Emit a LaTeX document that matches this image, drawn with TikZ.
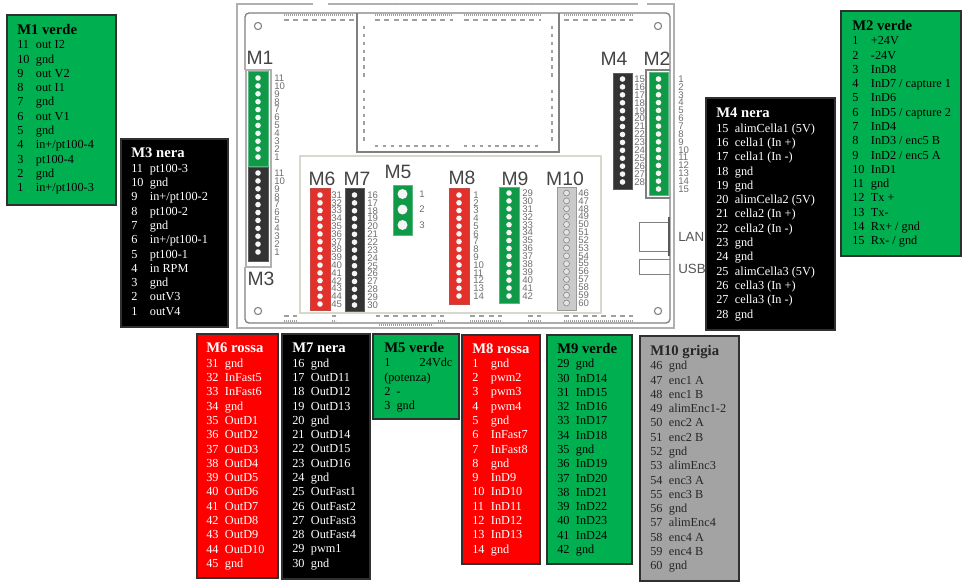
\documentclass[tikz,border=0pt]{standalone}
\usepackage{fontspec}
\setmainfont{Liberation Serif}
\setsansfont{Liberation Sans}
\definecolor{mapVerde}{HTML}{00B050}
\definecolor{mapRossa}{HTML}{FF0000}
\definecolor{mapGrigia}{HTML}{A3A3A3}
\definecolor{mapEdge}{HTML}{303030}
\definecolor{brdLine}{HTML}{808080}
\definecolor{brdFrame}{HTML}{B0B0B0}
\definecolor{brdInner}{HTML}{D8D8CE}
\definecolor{brdPad}{HTML}{A0A0A0}
\definecolor{brdText}{HTML}{555555}
\definecolor{stripVerde}{HTML}{109A48}
\definecolor{stripRossa}{HTML}{E2302A}
\definecolor{stripNera}{HTML}{333333}
\definecolor{stripGrigia}{HTML}{CACACA}
\newcommand{\pinrow}[2]{\makebox[14pt][l]{#1}#2\\}
\newcommand{\cardtitle}[1]{{\fontsize{11}{10.72}\selectfont\bfseries #1}\\}
\tikzset{
  card/.style={draw=mapEdge,line width=.8pt},
  rows/.style={anchor=north west,inner sep=0pt,align=left,font=\fontsize{9.2}{10.72}\selectfont},
  verde/.style={card,fill=mapVerde},
  rossa/.style={card,fill=mapRossa},
  nera/.style={card,fill=black},
  grigia/.style={card,fill=mapGrigia},
  sverde/.style={fill=stripVerde,draw=stripVerde!70!white,thin},
  srossa/.style={fill=stripRossa,draw=stripRossa!70!gray,thin},
  snera/.style={fill=stripNera,draw=stripNera!80!white,thin},
  sgrigia/.style={fill=stripGrigia,draw=gray!80,thin},
  pinfull/.style={fill=white!92!gray},
  pinring/.style={fill=stripGrigia!50!white,draw=gray,thin},
  tag/.style={font=\sffamily\fontsize{14.5}{15}\selectfont,text=brdText!80!black,inner sep=0pt},
  num/.style={font=\sffamily\fontsize{7.2}{8}\selectfont,text=brdText!85,inner sep=0pt,anchor=west},
  port/.style={font=\sffamily\fontsize{10}{11}\selectfont,text=brdText,inner sep=0pt,anchor=west},
  dense/.style={draw=brdPad,line width=1.5pt,dash pattern=on .9pt off .6pt},
  dashrow/.style={draw=brdPad,line width=.8pt,dash pattern=on 3.8pt off 3.2pt},
  padrow/.style={draw=brdPad,line width=2pt,dash pattern=on 2.6pt off 3.3pt},
}
\begin{document}
\begin{tikzpicture}[x=.75pt,y=-.75pt]
  \useasboundingbox (0,0) rectangle (970,587);
  % frame round the board
  \draw[brdFrame,line width=.9pt] (313,4) -- (237,4) -- (237,328) -- (674,328) -- (674,4) -- (647,4);
  \draw[brdFrame,line width=.9pt] (328,4) -- (638,4);
  \draw[brdLine,line width=.7pt] (389,0) arc[start angle=180,end angle=360,x radius=3.5,y radius=3];
  \draw[brdLine,line width=.7pt] (532,0) arc[start angle=180,end angle=360,x radius=3.5,y radius=3];
  % board outline
  \draw[brdLine,line width=1pt,rounded corners=3pt] (245,70) -- (245,13) -- (670,13) -- (670,323) -- (245,323) -- (245,267);
  \draw[brdFrame,line width=.8pt] (246,70) -- (271,70) -- (271,267) -- (246,267) -- cycle;
  \draw[brdLine,line width=.8pt] (670,70) -- (646,70) -- (646,198) -- (670,198);
  \draw[brdLine,line width=1pt] (357,13) -- (357,152) -- (559,152) -- (559,13);
  \draw[brdInner,line width=.9pt] (300,156) rectangle (601,313);
  % pads
  \foreach \xa/\xb in {284/354,375/453,464/541,564/633} {
    \draw[dense] (\xa,15) -- (\xb,15);
    \draw[dashrow] (\xa,20) -- (\xb,20);
  }
  \foreach \xa/\xb in {375/453,464/541} \draw[padrow] (\xa,146) -- (\xb,146);
  \foreach \xx in {364,552} {
    \draw[padrow] (\xx,26) -- (\xx,79);
    \draw[padrow] (\xx,90) -- (\xx,143);
  }
  \foreach \xa/\xb in {284/297,332/336,376/380,384/444,470/502,528/541,564/633}
    \draw[dashrow] (\xa,316) -- (\xb,316);
  \foreach \xa/\xb in {284/297,332/336,470/502,528/541,564/633}
    \draw[dense] (\xa,321) -- (\xb,321);
  \draw[dense] (379,325) -- (433,325);
  \draw[dense] (438,321) -- (445,321);
  % mounting holes
  \foreach \xx/\yy in {258/26,658/26,258/311,658/311}
    \draw[brdLine,line width=.8pt] (\xx,\yy) circle[radius=3.6];
  % lan and usb
  \draw[brdLine,line width=.7pt] (670,222) -- (639,222) -- (639,251) -- (670,251);
  \draw[brdLine,line width=.7pt] (670,259) -- (639,259) -- (639,274) -- (670,274);
  \draw[brdLine!70!black,line width=1.2pt] (669,217) -- (669,256);
  \node[port] (lan) at (678,237) {LAN};
  \node[port] (usb) at (678,269) {USB};
  % connector strips
  \foreach \cid/\xa/\ya/\xb/\yb/\sty/\pst/\rr/\py/\pe/\nfirst/\nsec/\nlast/\lx in {
      m1/248/71/268/166/sverde/pinfull/2.8/78/157/11/10/1/274,
      m3/248/167/268/261/snera/pinfull/2.8/173/252/11/10/1/274,
      m6/310/188/330/310/srossa/pinfull/2.8/195/304/31/32/45/331,
      m7/345/188/364/311/snera/pinfull/2.8/195/305/16/17/30/367,
      m8/449/188/469/304/srossa/pinfull/2.8/195/296/1/2/14/473,
      m9/499/187/519/303/sverde/pinfull/2.8/193/296/29/30/42/522,
      m10/557/187/576/310/sgrigia/pinring/3/193/303/46/47/60/578,
      m4/613/73/632/189/snera/pinfull/2.8/79/182/15/16/28/634,
      m2/649/72/668/195/sverde/pinfull/2.8/79/189/1/2/15/678,
      m5/393/185/412/235/sverde/pinfull/5/194/225/1/2/3/419} {
    \path[\sty] (\xa,\ya) rectangle (\xb,\yb);
    \pgfmathsetmacro{\pitch}{(\pe-\py)/abs(\nlast-\nfirst)}
    \pgfmathsetmacro{\pinx}{(\xa+\xb)/2}
    \foreach \k in {\nfirst,\nsec,...,\nlast} {
      \pgfmathsetmacro{\piny}{\py+abs(\k-\nfirst)*\pitch}
      \path[\pst] (\pinx,\piny) circle[radius=\rr];
      \node[num] (\cid-\k) at (\lx,\piny) {\k};
    }
  }
  \node[tag] (m1tag) at (260,58) {M1};
  \node[tag] (m3tag) at (261,279) {M3};
  \node[tag] (m6tag) at (322,179) {M6};
  \node[tag] (m7tag) at (357,179) {M7};
  \node[tag] (m5tag) at (398,172) {M5};
  \node[tag] (m8tag) at (462,178) {M8};
  \node[tag] (m9tag) at (515,179) {M9};
  \node[tag] (m10tag) at (565,179) {M10};
  \node[tag] (m4tag) at (614,59) {M4};
  \node[tag] (m2tag) at (657,59) {M2};
  % cards
  \draw[verde] (7,15) rectangle (116,205);
  \node[rows] (m1list) at (17,24) {\cardtitle{M1 verde}
    \pinrow{11}{out I2}\pinrow{10}{gnd}\pinrow{9}{out V2}\pinrow{8}{out I1}\pinrow{7}{gnd}\pinrow{6}{out V1}
    \pinrow{5}{gnd}\pinrow{4}{in+/pt100-4}\pinrow{3}{pt100-4}\pinrow{2}{gnd}1\hspace{9.4pt}in+/pt100-3};
  \draw[nera] (121,139) rectangle (228,327);
  \node[rows,text=white] (m3list) at (131,148) {\cardtitle{M3 nera}
    \pinrow{11}{pt100-3}\pinrow{10}{gnd}\pinrow{9}{in+/pt100-2}\pinrow{8}{pt100-2}\pinrow{7}{gnd}\pinrow{6}{in+/pt100-1}
    \pinrow{5}{pt100-1}\pinrow{4}{in RPM}\pinrow{3}{gnd}\pinrow{2}{outV3}1\hspace{9.4pt}outV4};
  \draw[verde] (841,11) rectangle (961,256);
  \node[rows] (m2list) at (852,20) {\cardtitle{M2 verde}
    \pinrow{1}{+24V}\pinrow{2}{-24V}\pinrow{3}{InD8}\pinrow{4}{InD7 / capture 1}\pinrow{5}{InD6}\pinrow{6}{InD5 / capture 2}
    \pinrow{7}{InD4}\pinrow{8}{InD3 / enc5 B}\pinrow{9}{InD2 / enc5 A}\pinrow{10}{InD1}\pinrow{11}{gnd}\pinrow{12}{Tx +}
    \pinrow{13}{Tx-}\pinrow{14}{Rx+ / gnd}15\hspace{4.8pt}Rx- / gnd};
  \draw[nera] (706,98) rectangle (835,330);
  \node[rows,text=white] (m4list) at (716,108) {\cardtitle{M4 nera}
    \pinrow{15}{alimCella1 (5V)}\pinrow{16}{cella1 (In +)}\pinrow{17}{cella1 (In -)}\pinrow{18}{gnd}\pinrow{19}{gnd}
    \pinrow{20}{alimCella2 (5V)}\pinrow{21}{cella2 (In +)}\pinrow{22}{cella2 (In -)}\pinrow{23}{gnd}\pinrow{24}{gnd}
    \pinrow{25}{alimCella3 (5V)}\pinrow{26}{cella3 (In +)}\pinrow{27}{cella3 (In -)}28\hspace{4.8pt}gnd};
  \draw[rossa] (197,334) rectangle (278,578);
  \node[rows,text=white] (m6list) at (206,343) {\cardtitle{M6 rossa}
    \pinrow{31}{gnd}\pinrow{32}{InFast5}\pinrow{33}{InFast6}\pinrow{34}{gnd}\pinrow{35}{OutD1}\pinrow{36}{OutD2}\pinrow{37}{OutD3}
    \pinrow{38}{OutD4}\pinrow{39}{OutD5}\pinrow{40}{OutD6}\pinrow{41}{OutD7}\pinrow{42}{OutD8}\pinrow{43}{OutD9}\pinrow{44}{OutD10}45\hspace{4.8pt}gnd};
  \draw[nera] (282,334) rectangle (370,579);
  \node[rows,text=white] (m7list) at (292,343) {\cardtitle{M7 nera}
    \pinrow{16}{gnd}\pinrow{17}{OutD11}\pinrow{18}{OutD12}\pinrow{19}{OutD13}\pinrow{20}{gnd}\pinrow{21}{OutD14}\pinrow{22}{OutD15}
    \pinrow{23}{OutD16}\pinrow{24}{gnd}\pinrow{25}{OutFast1}\pinrow{26}{OutFast2}\pinrow{27}{OutFast3}\pinrow{28}{OutFast4}\pinrow{29}{pwm1}30\hspace{4.8pt}gnd};
  \draw[verde] (373,334) rectangle (459,419);
  \node[rows] (m5list) at (384,342) {\cardtitle{M5 verde}
    1\hspace{22pt}24Vdc\\(potenza)\\2\hspace{4.6pt}-\\3\hspace{4.6pt}gnd};
  \draw[rossa] (462,335) rectangle (540,564);
  \node[rows,text=white] (m8list) at (472,343) {\cardtitle{M8 rossa}
    \pinrow{1}{gnd}\pinrow{2}{pwm2}\pinrow{3}{pwm3}\pinrow{4}{pwm4}\pinrow{5}{gnd}\pinrow{6}{InFast7}\pinrow{7}{InFast8}
    \pinrow{8}{gnd}\pinrow{9}{InD9}\pinrow{10}{InD10}\pinrow{11}{InD11}\pinrow{12}{InD12}\pinrow{13}{InD13}14\hspace{4.8pt}gnd};
  \draw[verde] (547,335) rectangle (632,564);
  \node[rows] (m9list) at (557,343) {\cardtitle{M9 verde}
    \pinrow{29}{gnd}\pinrow{30}{InD14}\pinrow{31}{InD15}\pinrow{32}{InD16}\pinrow{33}{InD17}\pinrow{34}{InD18}\pinrow{35}{gnd}
    \pinrow{36}{InD19}\pinrow{37}{InD20}\pinrow{38}{InD21}\pinrow{39}{InD22}\pinrow{40}{InD23}\pinrow{41}{InD24}42\hspace{4.8pt}gnd};
  \draw[grigia] (640,336) rectangle (739,581);
  \node[rows,text=black!85] (m10list) at (650,345) {\cardtitle{M10 grigia}
    \pinrow{46}{gnd}\pinrow{47}{enc1 A}\pinrow{48}{enc1 B}\pinrow{49}{alimEnc1-2}\pinrow{50}{enc2 A}\pinrow{51}{enc2 B}\pinrow{52}{gnd}
    \pinrow{53}{alimEnc3}\pinrow{54}{enc3 A}\pinrow{55}{enc3 B}\pinrow{56}{gnd}\pinrow{57}{alimEnc4}\pinrow{58}{enc4 A}\pinrow{59}{enc4 B}60\hspace{4.8pt}gnd};
\end{tikzpicture}
\end{document}
